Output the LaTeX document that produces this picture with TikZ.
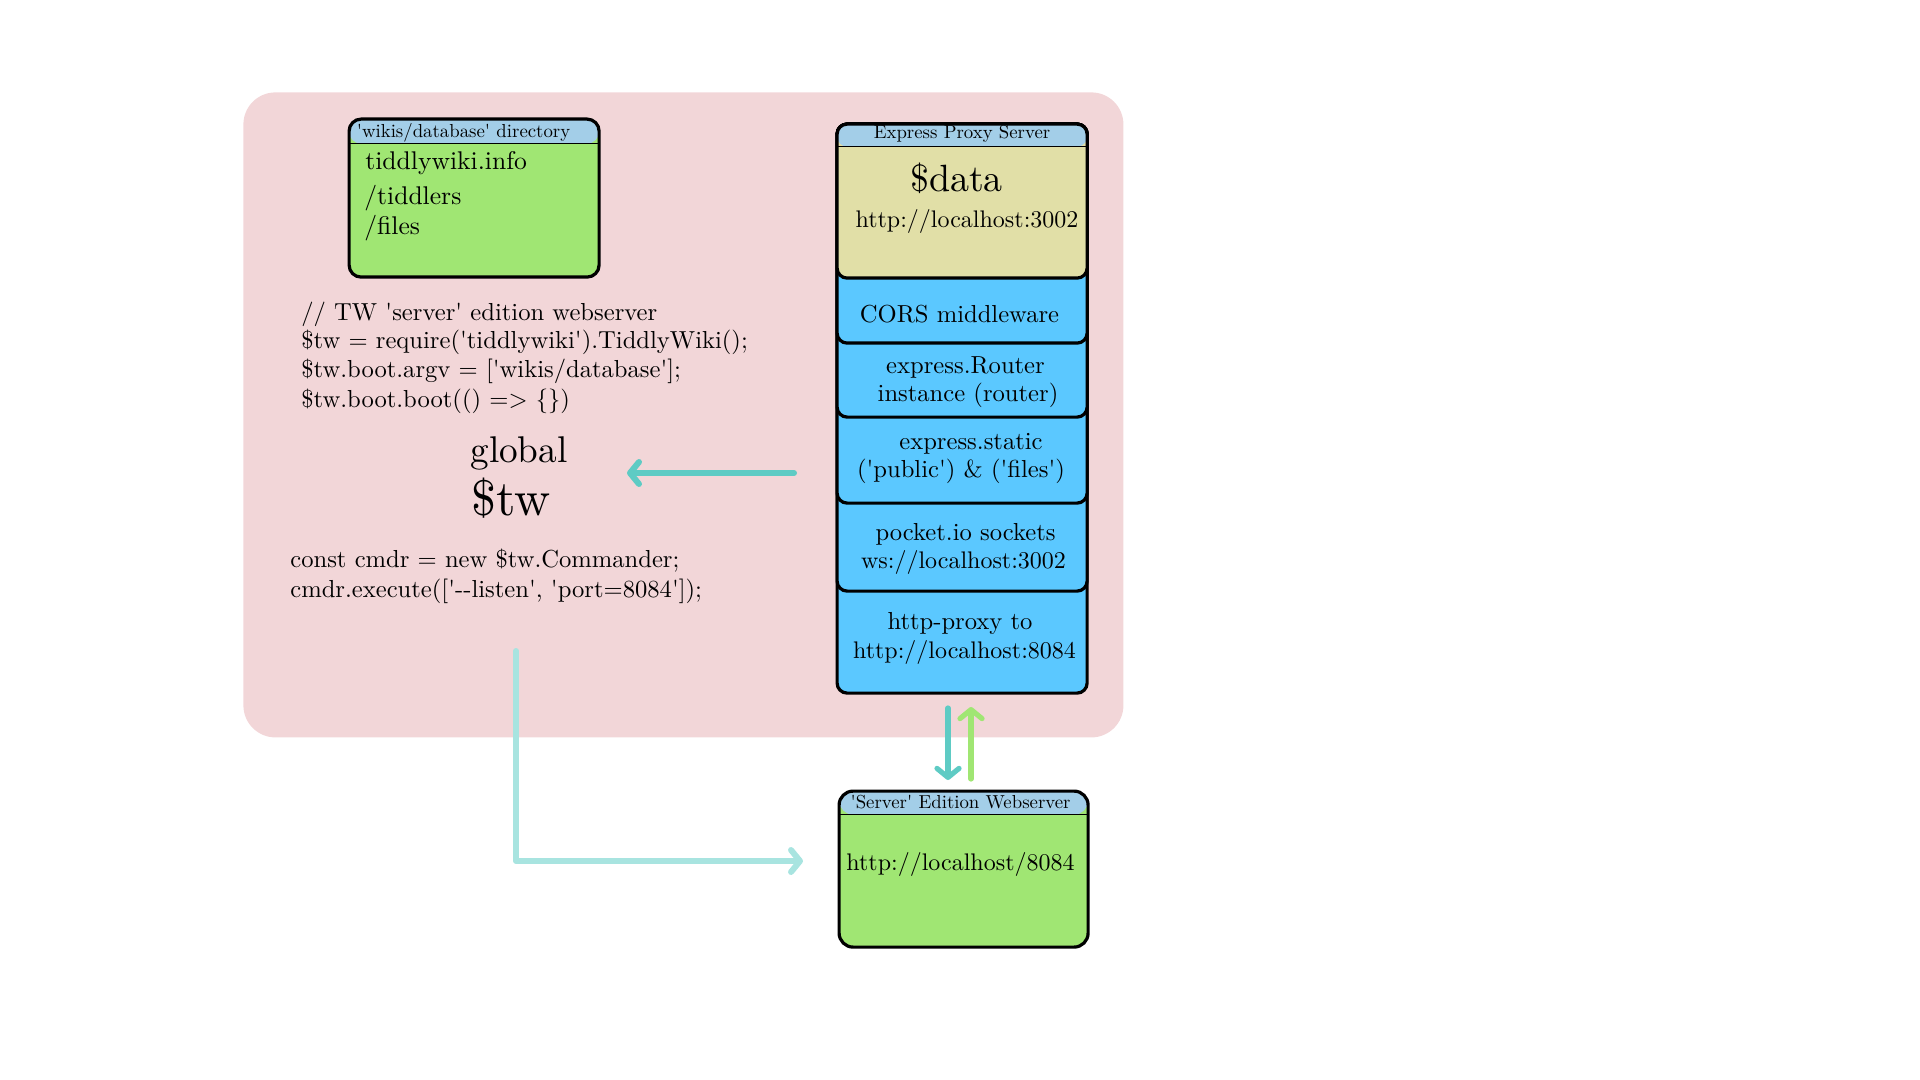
\documentclass[tikz,border=0pt]{standalone}
\usepackage{fontspec}
\setmainfont{lmroman10-regular.otf}
\usetikzlibrary{arrows.meta}
\definecolor{pinkbg}{HTML}{F2D6D8}
\definecolor{hdrblue}{HTML}{A3CEE8}
\definecolor{grn}{HTML}{A0E673}
\definecolor{yel}{HTML}{E1DFA7}
\definecolor{sky}{HTML}{5BC8FF}
\definecolor{teal}{HTML}{5ECBC4}
\definecolor{lteal}{HTML}{A8E4E0}
\newcommand\szhead{\fontsize{9.4}{11}\selectfont}
\newcommand\szbody{\fontsize{12.3}{14}\selectfont}
\newcommand\szwiki{\fontsize{12.8}{15}\selectfont}
\newcommand\szurl{\fontsize{12}{14}\selectfont}
\newcommand\sq{\textquotesingle}
\begin{document}
\begin{tikzpicture}[x=0.5pt,y=-0.5pt,
  box/.style={draw=black, line width=1.6pt, rounded corners=5pt, anchor=north west, inner sep=0pt, minimum width=125pt},
  hdr/.style={path picture={
      \fill[hdrblue] ([yshift=2pt]path picture bounding box.north west) rectangle ([yshift=-#1]path picture bounding box.north east);
      \draw[line width=0.6pt] ([yshift=-#1]path picture bounding box.north west) -- ([yshift=-#1]path picture bounding box.north east);}},
  ctext/.style={inner sep=0pt, anchor=base},
  ltext/.style={inner sep=0pt, anchor=base west},
  conn/.style={line width=3pt, line cap=round, line join=round, -{Straight Barb[length=4.5pt,width=11pt,round]}}
]
\useasboundingbox (0,0) rectangle (1920,1080);
% background container
\node[fill=pinkbg, rounded corners=16pt, anchor=north west, inner sep=0pt,
      minimum width=440pt, minimum height=322.5pt] (bg) at (243,92) {};

% wikis/database directory box
\node[box, fill=grn, rounded corners=6pt, minimum height=79pt, hdr=12.25pt] (wiki) at (347.5,117.5) {};
\node[ctext] (wikihdr) at (463.5,138) {\szhead \sq wikis/database\sq{} directory};
\node[ltext] (wk1) at (365,170) {\szwiki tiddlywiki.info};
\node[ltext] (wk2) at (364,205) {\szwiki /tiddlers};
\node[ltext] (wk3) at (364,235) {\szwiki /files};

% code text
\node[ltext] (c1) at (301,321) {\szbody // TW \sq server\sq{} edition webserver};
\node[ltext] (c2) at (301,349) {\szbody \$tw = require(\sq tiddlywiki\sq).TiddlyWiki();};
\node[ltext] (c3) at (301,378) {\szbody \$tw.boot.argv = [\sq wikis/database\sq];};
\node[ltext] (c4) at (301,407) {\szbody \$tw.boot.boot(() => \{\})};
\node[ltext] (glob) at (470,462) {\fontsize{18.6}{22}\selectfont global};
\node[ltext] (tw) at (471,515) {\fontsize{25}{29}\selectfont \$tw};
\node[ltext] (c5) at (290,567) {\szbody const cmdr = new \$tw.Commander;};
\node[ltext] (c6) at (290,597) {\szbody cmdr.execute([\sq -{}-listen\sq, \sq port=8084\sq]);};

% Express proxy stack (drawn bottom-up)
\node[box, fill=sky, minimum height=284.5pt] (proxy) at (835.5,122.5) {};
\node[box, fill=sky, minimum height=233.5pt] (pocket) at (835.5,122.5) {};
\node[box, fill=sky, minimum height=189.5pt] (static) at (835.5,122.5) {};
\node[box, fill=sky, minimum height=146.5pt] (router) at (835.5,122.5) {};
\node[box, fill=sky, minimum height=109.5pt] (cors) at (835.5,122.5) {};
\node[box, fill=yel, minimum height=77pt, hdr=11.25pt] (data) at (835.5,122.5) {};

\node[ctext] (proxyhdr) at (962,139) {\szhead Express Proxy Server};
\node[ctext] (datat) at (956.5,192) {\fontsize{19}{23}\selectfont \$data};
\node[ctext] (datau) at (967,228) {\szurl http://localhost:3002};
\node[ctext] (corst) at (959.5,322) {\szbody CORS middleware};
\node[ctext] (rt1) at (965.5,373) {\szbody express.Router};
\node[ctext] (rt2) at (968,401) {\szbody instance (router)};
\node[ctext] (st1) at (971,449) {\szbody express.static};
\node[ctext] (st2) at (961,477) {\szbody (\sq public\sq) \& (\sq files\sq)};
\node[ctext] (pk1) at (965.5,540) {\szbody pocket.io sockets};
\node[ctext] (pk2) at (963.5,568) {\szurl ws://localhost:3002};
\node[ctext] (hp1) at (960,629) {\szbody http-proxy to};
\node[ctext] (hp2) at (964.5,658) {\szurl http://localhost:8084};

% Server edition webserver box
\node[box, fill=grn, minimum width=124.5pt, rounded corners=7pt, minimum height=78pt, hdr=11.75pt] (srv) at (837.5,789.5) {};
\node[ctext] (srvhdr) at (960.5,808) {\szhead \sq Server\sq{} Edition Webserver};
\node[ctext] (srvu) at (960.5,870) {\szurl http://localhost/8084};

% connectors
\coordinate (gs) at (794,473);
\coordinate (ge) at (627,473);
\draw[conn, teal] (gs) -- (ge);

\coordinate (ds) at (948,708);
\coordinate (de) at (948,780);
\draw[conn, teal, line width=2.6pt] (ds) -- (de);

\coordinate (us) at (971,779);
\coordinate (ue) at (971,707);
\draw[conn, grn, line width=2.6pt] (us) -- (ue);

\coordinate (ls) at (516,651);
\coordinate (lc) at (516,861);
\coordinate (le) at (803,861);
\draw[conn, lteal] (ls) -- (lc) -- (le);
\end{tikzpicture}
\end{document}
